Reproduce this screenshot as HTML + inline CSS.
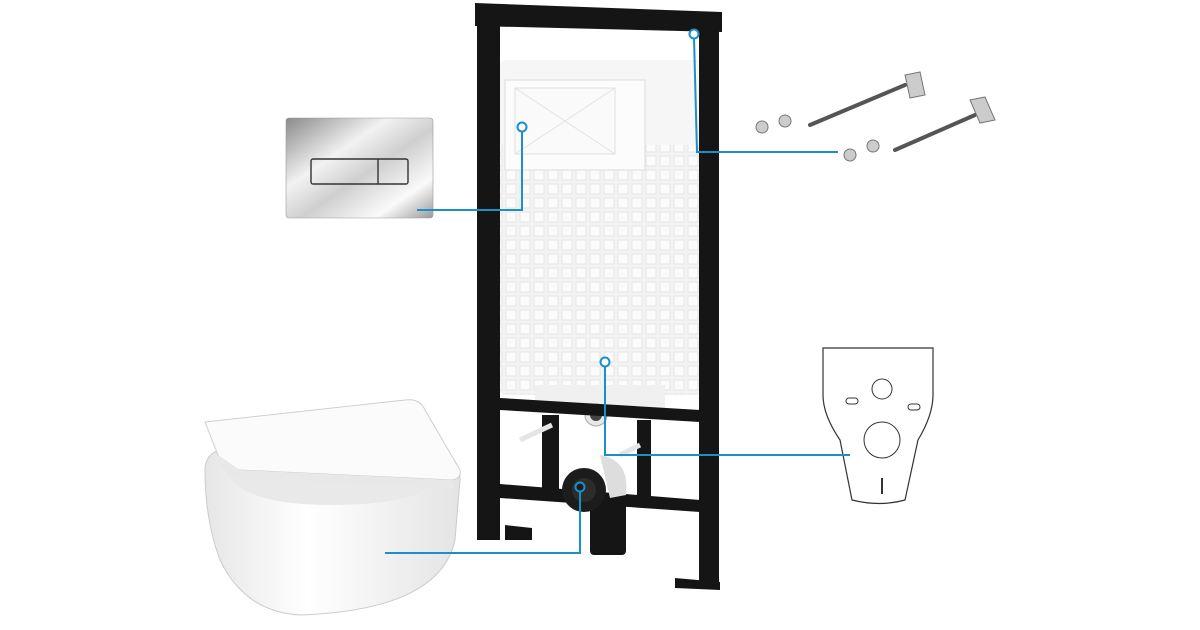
<!DOCTYPE html>
<html><head><meta charset="utf-8"><style>
html,body{margin:0;padding:0;background:#fff;width:1200px;height:630px;overflow:hidden}
</style></head><body>
<svg width="1200" height="630" viewBox="0 0 1200 630" xmlns="http://www.w3.org/2000/svg">
<defs>
<linearGradient id="chrome" x1="0" y1="0" x2="1" y2="1">
<stop offset="0" stop-color="#8a8a8a"/><stop offset="0.35" stop-color="#f2f2f2"/><stop offset="0.55" stop-color="#cfcfcf"/><stop offset="0.8" stop-color="#fafafa"/><stop offset="1" stop-color="#9a9a9a"/>
</linearGradient>
<pattern id="grid" width="14" height="14" patternUnits="userSpaceOnUse">
<rect width="14" height="14" fill="#f3f3f3"/><rect x="2" y="2" width="10" height="10" fill="#fbfbfb" stroke="#e6e6e6" stroke-width="1"/>
</pattern>
<linearGradient id="bowl" x1="0" y1="0" x2="1" y2="0">
<stop offset="0" stop-color="#e6e6e6"/><stop offset="0.4" stop-color="#fff"/><stop offset="1" stop-color="#e4e4e4"/>
</linearGradient>
</defs>

<!-- cistern -->
<rect x="498" y="60" width="205" height="335" rx="8" fill="url(#grid)"/>
<rect x="498" y="60" width="205" height="85" rx="8" fill="#f6f6f6"/>
<rect x="505" y="80" width="140" height="90" fill="#fcfcfc" stroke="#ddd"/>
<rect x="515" y="88" width="100" height="66" fill="#fafafa" stroke="#e0e0e0"/>
<line x1="515" y1="88" x2="615" y2="154" stroke="#e3e3e3"/><line x1="615" y1="88" x2="515" y2="154" stroke="#e3e3e3"/>
<rect x="535" y="385" width="130" height="25" fill="#f0f0f0"/>
<circle cx="596" cy="415" r="11" fill="#e8e8e8" stroke="#aaa"/>
<circle cx="596" cy="415" r="6" fill="#444"/>

<!-- frame -->
<g fill="#151515">
<path d="M475 3 L722 12 L722 32 L475 26Z"/>
<rect x="477" y="5" width="23" height="535"/>
<rect x="699" y="12" width="20" height="572"/>
<path d="M500 398 L700 410 L700 422 L500 410Z"/>
<path d="M500 484 L700 500 L700 512 L500 498Z"/>
<rect x="542" y="415" width="17" height="80"/>
<rect x="637" y="420" width="14" height="85"/>
<path d="M505 525 L532 528 L532 540 L505 540Z"/>
<path d="M675 578 L720 582 L720 590 L675 588Z"/>
<rect x="590" y="495" width="36" height="60" rx="4"/>
</g>
<circle cx="584" cy="490" r="22" fill="#1c1c1c"/><circle cx="584" cy="490" r="12" fill="#2c2c2c"/>
<path d="M600 455 Q630 460 626 495 L610 498 Z" fill="#ddd"/>
<line x1="520" y1="440" x2="552" y2="425" stroke="#e5e5e5" stroke-width="5"/>
<line x1="620" y1="455" x2="640" y2="445" stroke="#e5e5e5" stroke-width="5"/>

<!-- flush plate -->
<rect x="286" y="118" width="147" height="100" rx="3" fill="url(#chrome)" stroke="#999" stroke-width="0.6"/>
<rect x="311" y="159" width="97" height="25" rx="2" fill="none" stroke="#333" stroke-width="1.4"/>
<line x1="378" y1="159" x2="378" y2="184" stroke="#333" stroke-width="1.4"/>

<!-- toilet -->
<path d="M205 470 Q205 450 230 448 L430 450 Q460 452 460 480 L455 540 Q440 610 300 615 Q245 612 220 560 Q205 520 205 470Z" fill="url(#bowl)" stroke="#ccc"/>
<path d="M225 470 Q240 455 300 455 L420 458 Q440 460 435 480 Q420 505 330 505 Q240 505 225 470Z" fill="#e9e9e9"/>
<path d="M205 422 L405 400 Q420 398 425 410 L460 470 Q462 478 452 480 L240 470 Q225 468 218 455Z" fill="#fbfbfb" stroke="#cfcfcf"/>
<path d="M218 455 L240 470 L452 480 L455 488 L240 478 Q225 475 218 462Z" fill="#e8e8e8"/>

<!-- gasket -->
<path d="M823 348 L933 348 L933 395 Q933 415 918 440 L905 500 Q880 507 852 500 L840 440 Q823 415 823 395Z" fill="#fff" stroke="#333" stroke-width="1.2"/>
<circle cx="882" cy="389" r="10" fill="#fff" stroke="#333"/>
<circle cx="882" cy="440" r="18" fill="#fff" stroke="#333"/>
<rect x="846" y="398" width="12" height="6" rx="3" fill="none" stroke="#333"/>
<rect x="908" y="404" width="12" height="6" rx="3" fill="none" stroke="#333"/>
<line x1="882" y1="478" x2="882" y2="494" stroke="#333" stroke-width="2"/>

<!-- bolts -->
<g stroke="#555" stroke-width="4" stroke-linecap="round">
<line x1="810" y1="125" x2="905" y2="85"/>
<line x1="895" y1="150" x2="975" y2="115"/>
</g>
<g fill="#ccc" stroke="#777">
<path d="M905 75 L920 72 L925 95 L910 98Z"/><path d="M970 100 L985 97 L995 120 L980 123Z"/>
<circle cx="762" cy="127" r="6"/><circle cx="785" cy="121" r="6"/>
<circle cx="850" cy="155" r="6"/><circle cx="873" cy="146" r="6"/>
</g>

<!-- callout lines -->
<g fill="none" stroke="#1a8fc9" stroke-width="2">
<polyline points="417,210 522,210 522,131"/>
<circle cx="522" cy="127" r="4.5" fill="#fff"/>
<polyline points="694,38 697,152 838,152"/>
<circle cx="694" cy="34" r="4.5" fill="#fff"/>
<polyline points="605,366 605,455 850,455"/>
<circle cx="605" cy="362" r="4.5" fill="#fff"/>
<polyline points="580,491 580,553 385,553"/>
<circle cx="580" cy="487" r="4.5" fill="#1c1c1c"/>
</g>
</svg>
</body></html>
